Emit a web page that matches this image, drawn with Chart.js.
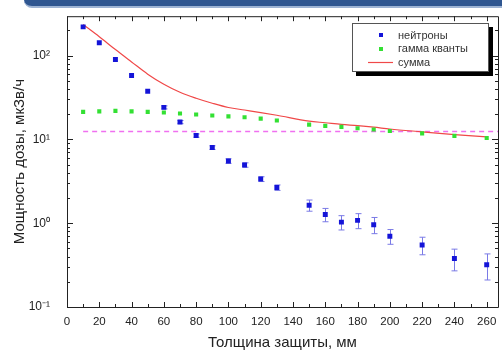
<!DOCTYPE html>
<html><head><meta charset="utf-8">
<script src="https://cdn.jsdelivr.net/npm/chart.js@4/dist/chart.umd.min.js"></script>
<style>
html,body{margin:0;padding:0;background:#fff;overflow:hidden}
#wrap{position:relative;width:502px;height:355px}
#hdr{position:absolute;left:24px;top:0;width:490px;height:6px;background:#2f5690;border-bottom:2px solid #9db3d3;border-bottom-left-radius:9px}
canvas{position:absolute;left:0;top:0}
</style></head><body>
<div id="wrap"><canvas id="c" width="502" height="355" style="width:502px;height:355px"></canvas><div id="hdr"></div></div>
<script>
// ---- data ----
const thickness = [10,20,30,40,50,60,70,80,90,100,110,120,130,150,160,170,180,190,200,220,240,260];
const neutronDose = [220,142,90,57.8,37.5,24.1,16.1,11.1,7.98,5.52,4.95,3.36,2.66,1.64,1.27,1.03,1.08,0.96,0.70,0.55,0.38,0.32];
const neutronErr  = [0,0,0,0,0,1.0,0.7,0.5,0.4,0.35,0.3,0.22,0.2,0.25,0.23,0.2,0.22,0.21,0.14,0.13,0.11,0.11];
const gammaDose   = [21.3,21.6,21.9,21.6,21.3,20.9,20.4,19.8,19.3,18.8,18.4,17.7,16.8,15.0,14.5,14.1,13.6,13.1,12.6,11.8,11.0,10.4];
const sumDose     = [235,168,118,84,60,45.5,36.5,31,27,24.0,22.4,20.9,19.4,16.5,15.8,15.1,14.6,14.0,13.3,12.3,11.4,10.7];
const limitLevel  = 12.4;
const limitRange  = [10,267];
const xTickValues = [0,20,40,60,80,100,120,140,160,180,200,220,240,260];
const yTickValues = [0.1,1,10,100];
const seriesNames = ['нейтроны','гамма кванты','сумма'];
const xTitle = 'Толщина защиты, мм';
const yTitle = 'Мощность дозы, мкЗв/ч';

const FONT = '"Liberation Sans", Arial, sans-serif';
const sup = {'-':'⁻','0':'⁰','1':'¹','2':'²','3':'³'};
function powLabel(v){const e=Math.round(Math.log10(v));return '10'+String(e).split('').map(c=>sup[c]).join('');}

const pts = (ys)=>thickness.map((x,i)=>({x:x,y:ys[i]}));

const framePlugin = {
  id:'frame',
  beforeDatasetsDraw(chart){
    const ctx=chart.ctx, a=chart.chartArea, xs=chart.scales.x, ys=chart.scales.y;
    ctx.save();
    ctx.strokeStyle='#222'; ctx.lineWidth=1;
    ctx.beginPath();
    ctx.moveTo(a.left+0.5,a.top+0.5); ctx.lineTo(a.right+0.5,a.top+0.5);
    ctx.lineTo(a.right+0.5,a.bottom+0.5); ctx.lineTo(a.left+0.5,a.bottom+0.5); ctx.closePath();
    ctx.stroke();
    ctx.beginPath();
    for(let v=0; v<=xs.max; v+=10){
      const px=Math.round(xs.getPixelForValue(v))+0.5;
      const L=(v%20===0)?5:3;
      ctx.moveTo(px,a.bottom); ctx.lineTo(px,a.bottom-L);
      ctx.moveTo(px,a.top); ctx.lineTo(px,a.top+L);
    }
    for(let e=-1;e<=2;e++){
      for(let m=1;m<=9;m++){
        const v=m*Math.pow(10,e);
        if(v<ys.min-1e-9||v>ys.max) continue;
        const py=Math.round(ys.getPixelForValue(v))+0.5;
        const L=(m===1)?6:3;
        ctx.moveTo(a.left,py); ctx.lineTo(a.left+L,py);
        ctx.moveTo(a.right,py); ctx.lineTo(a.right-L,py);
      }
    }
    ctx.stroke();
    // error bars for neutrons
    ctx.strokeStyle='#7a7ae6'; ctx.lineWidth=1;
    ctx.beginPath();
    thickness.forEach((x,i)=>{
      const e=neutronErr[i]; if(!e) return;
      const px=Math.round(xs.getPixelForValue(x))+0.5;
      const y1=ys.getPixelForValue(neutronDose[i]+e), y2=ys.getPixelForValue(Math.max(neutronDose[i]-e,0.01));
      ctx.moveTo(px,y1); ctx.lineTo(px,y2);
      ctx.moveTo(px-3,y1); ctx.lineTo(px+3,y1);
      ctx.moveTo(px-3,y2); ctx.lineTo(px+3,y2);
    });
    ctx.stroke();
    ctx.restore();
  },
  afterDraw(chart){
    const ctx=chart.ctx;
    ctx.save();
    ctx.fillStyle='#000'; ctx.fillRect(356,27,137,49);
    ctx.fillStyle='#fff'; ctx.fillRect(352,23,137,49);
    ctx.strokeStyle='#555'; ctx.lineWidth=1; ctx.strokeRect(352.5,23.5,136,48);
    ctx.fillStyle='#1414d8'; ctx.fillRect(379,33,4,4);
    ctx.fillStyle='#33e033'; ctx.fillRect(379,47,4,4);
    ctx.strokeStyle='#f04848'; ctx.lineWidth=1.2;
    ctx.beginPath(); ctx.moveTo(368,62.5); ctx.lineTo(393,62.5); ctx.stroke();
    ctx.fillStyle='#333'; ctx.font='11px '+FONT; ctx.textBaseline='middle'; ctx.textAlign='left';
    ctx.fillText(seriesNames[0],398,35.5);
    ctx.fillText(seriesNames[1],398,49);
    ctx.fillText(seriesNames[2],398,62.5);
    ctx.restore();
  }
};

new Chart(document.getElementById('c'),{
  type:'scatter',
  data:{datasets:[
    {label:'limit',data:limitRange.map(x=>({x:x,y:limitLevel})),showLine:true,borderColor:'#f070f0',borderWidth:1.5,borderDash:[5,4],pointRadius:0,order:5},
    {label:seriesNames[2],data:pts(sumDose),showLine:true,borderColor:'#f04848',borderWidth:1.2,pointRadius:0,cubicInterpolationMode:'monotone',order:4},
    {label:seriesNames[1],data:pts(gammaDose),pointStyle:'rect',pointRadius:2.9,backgroundColor:'#33e033',borderWidth:0,order:3},
    {label:seriesNames[0],data:pts(neutronDose),pointStyle:'rect',pointRadius:3.5,backgroundColor:'#1414d8',borderWidth:0,order:2}
  ]},
  options:{
    responsive:false,animation:false,
    layout:{padding:{left:0,right:0,top:11,bottom:0}},
    plugins:{legend:{display:false},tooltip:{enabled:false}},
    scales:{
      x:{type:'linear',min:0,max:267,
        grid:{display:false},border:{display:false},
        afterBuildTicks(s){s.ticks=xTickValues.map(v=>({value:v}));},
        afterFit(s){s.height=48;},
        ticks:{padding:0,color:'#222',font:{family:FONT,size:11.5},maxRotation:0,autoSkip:false},
        title:{display:true,text:xTitle,color:'#222',font:{family:FONT,size:15},padding:{top:0,bottom:3}}
      },
      y:{type:'logarithmic',min:0.1,max:295,
        grid:{display:false},border:{display:false},
        afterBuildTicks(s){s.ticks=yTickValues.map(v=>({value:v}));},
        afterFit(s){s.width=67;},
        ticks:{padding:9,color:'#222',font:{family:FONT,size:12},callback:(v)=>powLabel(v)},
        title:{display:true,text:yTitle,color:'#222',font:{family:FONT,size:15},padding:{top:11,bottom:0}}
      }
    }
  },
  plugins:[framePlugin]
});
</script>
</body></html>
